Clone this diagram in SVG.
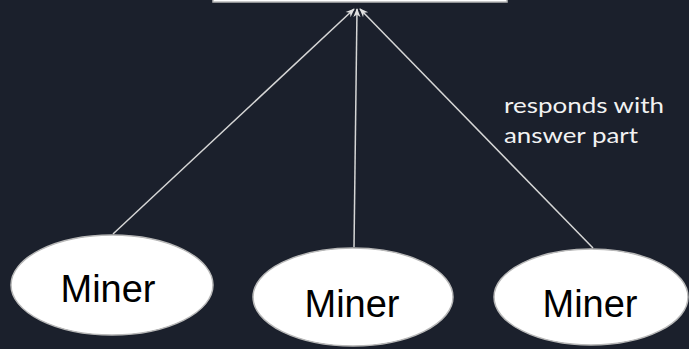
<svg xmlns="http://www.w3.org/2000/svg" width="689" height="349" viewBox="0 0 689 349">
<defs>
<style>
.node{fill:#ffffff;stroke:#b8b8b8;stroke-width:1.5}
.lbl{font-family:"Liberation Sans",Arial,sans-serif;font-size:38px;fill:#000000;text-anchor:middle}
.edge{stroke:#d6d6d6;stroke-width:1.5;fill:none;marker-end:url(#arr)}
.note{font-family:Lato,"Liberation Sans",sans-serif;font-size:22px;fill:#f2f2f2}
</style>
<marker id="arr" viewBox="0 0 10 10" refX="9" refY="5" markerWidth="9" markerHeight="9" orient="auto-start-reverse" markerUnits="userSpaceOnUse">
<path d="M0,1 L10,5 L0,9 L3,5 Z" fill="#e0e0e0"/>
</marker>
</defs>
<rect x="0" y="0" width="689" height="349" fill="#1b202c"/>
<g id="top">
<rect class="node" x="213" y="-40" width="294" height="42"/>
</g>
<g id="connectors">
<line class="edge" x1="113" y1="234" x2="354" y2="9"/>
<line class="edge" x1="354" y1="247" x2="357" y2="9"/>
<line class="edge" x1="593" y1="248" x2="360" y2="9"/>
</g>
<g id="miner1">
<ellipse class="node" cx="112" cy="285" rx="101" ry="50"/>
<text class="lbl" x="108" y="302" textLength="95" lengthAdjust="spacingAndGlyphs">Miner</text>
</g>
<g id="miner2">
<ellipse class="node" cx="353" cy="297" rx="100" ry="49"/>
<text class="lbl" x="352" y="317" textLength="95" lengthAdjust="spacingAndGlyphs">Miner</text>
</g>
<g id="miner3">
<ellipse class="node" cx="591" cy="297" rx="97" ry="48"/>
<text class="lbl" x="590" y="317" textLength="95" lengthAdjust="spacingAndGlyphs">Miner</text>
</g>
<g id="label">
<text class="note" x="504" y="113" textLength="160" lengthAdjust="spacingAndGlyphs">responds with</text>
<text class="note" x="504" y="143" textLength="134" lengthAdjust="spacingAndGlyphs">answer part</text>
</g>
</svg>
